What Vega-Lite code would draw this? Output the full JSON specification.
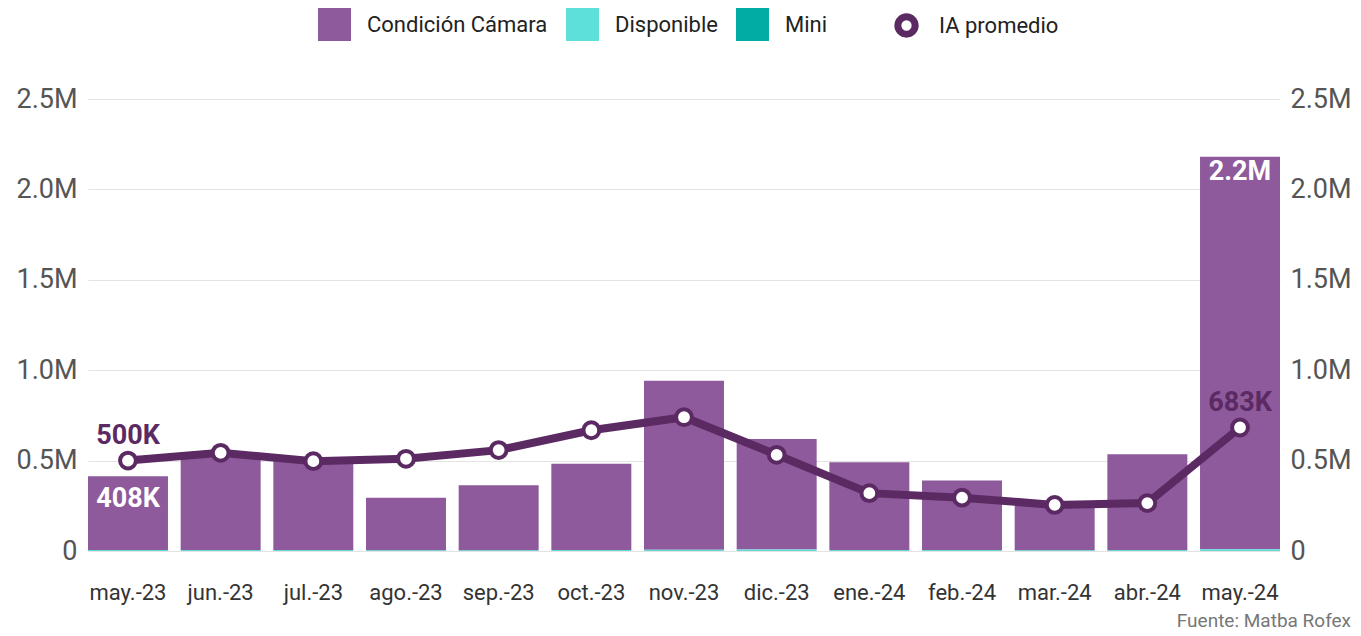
{
  "$schema": "https://vega.github.io/schema/vega-lite/v6.json",
  "width": 1361,
  "height": 636,
  "autosize": {"type": "fit", "contains": "padding"},
  "padding": {"left": 15, "right": 9, "top": 85, "bottom": 5},
  "config": {
    "font": "Roboto",
    "view": {"stroke": null},
    "axis": {"labelFont": "Roboto", "titleFont": "Roboto"},
    "legend": {"labelFont": "Roboto"}
  },
  "title": {"text": "Fuente: Matba Rofex", "orient": "bottom", "anchor": "end", "fontSize": 19, "fontWeight": "normal", "color": "#777777", "offset": 9},
  "datasets": {
    "bars": [
      {"month": "may.-23", "series": "Condición Cámara", "value": 408000, "label": "408K"},
      {"month": "jun.-23", "series": "Condición Cámara", "value": 522000, "label": ""},
      {"month": "jul.-23", "series": "Condición Cámara", "value": 502000, "label": ""},
      {"month": "ago.-23", "series": "Condición Cámara", "value": 290000, "label": ""},
      {"month": "sep.-23", "series": "Condición Cámara", "value": 360000, "label": ""},
      {"month": "oct.-23", "series": "Condición Cámara", "value": 478000, "label": ""},
      {"month": "nov.-23", "series": "Condición Cámara", "value": 935000, "label": ""},
      {"month": "dic.-23", "series": "Condición Cámara", "value": 612000, "label": ""},
      {"month": "ene.-24", "series": "Condición Cámara", "value": 485000, "label": ""},
      {"month": "feb.-24", "series": "Condición Cámara", "value": 385000, "label": ""},
      {"month": "mar.-24", "series": "Condición Cámara", "value": 270000, "label": ""},
      {"month": "abr.-24", "series": "Condición Cámara", "value": 530000, "label": ""},
      {"month": "may.-24", "series": "Condición Cámara", "value": 2170000, "label": "2.2M"},
      {"month": "may.-23", "series": "Disponible", "value": 4000},
      {"month": "jun.-23", "series": "Disponible", "value": 5000},
      {"month": "jul.-23", "series": "Disponible", "value": 4000},
      {"month": "ago.-23", "series": "Disponible", "value": 3000},
      {"month": "sep.-23", "series": "Disponible", "value": 3000},
      {"month": "oct.-23", "series": "Disponible", "value": 4000},
      {"month": "nov.-23", "series": "Disponible", "value": 6000},
      {"month": "dic.-23", "series": "Disponible", "value": 7000},
      {"month": "ene.-24", "series": "Disponible", "value": 5000},
      {"month": "feb.-24", "series": "Disponible", "value": 4000},
      {"month": "mar.-24", "series": "Disponible", "value": 3000},
      {"month": "abr.-24", "series": "Disponible", "value": 4000},
      {"month": "may.-24", "series": "Disponible", "value": 8000},
      {"month": "may.-23", "series": "Mini", "value": 1000},
      {"month": "jun.-23", "series": "Mini", "value": 1000},
      {"month": "jul.-23", "series": "Mini", "value": 1000},
      {"month": "ago.-23", "series": "Mini", "value": 1000},
      {"month": "sep.-23", "series": "Mini", "value": 1000},
      {"month": "oct.-23", "series": "Mini", "value": 1000},
      {"month": "nov.-23", "series": "Mini", "value": 1000},
      {"month": "dic.-23", "series": "Mini", "value": 1000},
      {"month": "ene.-24", "series": "Mini", "value": 1000},
      {"month": "feb.-24", "series": "Mini", "value": 1000},
      {"month": "mar.-24", "series": "Mini", "value": 1000},
      {"month": "abr.-24", "series": "Mini", "value": 1000},
      {"month": "may.-24", "series": "Mini", "value": 2000}
    ],
    "line": [
      {"month": "may.-23", "series": "IA promedio", "value": 500000, "label": "500K"},
      {"month": "jun.-23", "series": "IA promedio", "value": 543000, "label": ""},
      {"month": "jul.-23", "series": "IA promedio", "value": 497000, "label": ""},
      {"month": "ago.-23", "series": "IA promedio", "value": 510000, "label": ""},
      {"month": "sep.-23", "series": "IA promedio", "value": 558000, "label": ""},
      {"month": "oct.-23", "series": "IA promedio", "value": 668000, "label": ""},
      {"month": "nov.-23", "series": "IA promedio", "value": 740000, "label": ""},
      {"month": "dic.-23", "series": "IA promedio", "value": 532000, "label": ""},
      {"month": "ene.-24", "series": "IA promedio", "value": 320000, "label": ""},
      {"month": "feb.-24", "series": "IA promedio", "value": 295000, "label": ""},
      {"month": "mar.-24", "series": "IA promedio", "value": 255000, "label": ""},
      {"month": "abr.-24", "series": "IA promedio", "value": 265000, "label": ""},
      {"month": "may.-24", "series": "IA promedio", "value": 683000, "label": "683K"}
    ]
  },
  "encoding": {
    "x": {
      "field": "month", "type": "ordinal",
      "sort": ["may.-23","jun.-23","jul.-23","ago.-23","sep.-23","oct.-23","nov.-23","dic.-23","ene.-24","feb.-24","mar.-24","abr.-24","may.-24"],
      "scale": {"paddingInner": 0.137, "paddingOuter": 0},
      "axis": {"title": null, "labelAngle": 0, "labelFontSize": 22, "labelColor": "#333333", "domain": false, "ticks": false, "labelPadding": 31}
    }
  },
  "layer": [
    {
      "data": {"name": "bars"},
      "layer": [
        {
          "mark": {"type": "bar"},
          "encoding": {
            "y": {"field": "value", "type": "quantitative", "aggregate": "sum", "stack": "zero",
              "scale": {"domain": [0, 2500000], "nice": false, "zero": true},
              "axis": {"title": null, "values": [0, 500000, 1000000, 1500000, 2000000, 2500000],
                "labelExpr": "datum.value == 0 ? '0' : format(datum.value / 1000000, '.1f') + 'M'",
                "labelFontSize": 27, "labelColor": "#555555", "domain": false, "ticks": false, "labelPadding": 11,
                "gridColor": "#e3e3e3", "gridWidth": 1}},
            "color": {"field": "series", "type": "nominal",
              "scale": {"domain": ["Condición Cámara", "Disponible", "Mini"], "range": ["#8e5a9b", "#5ee0da", "#00aca4"]},
              "legend": {"title": null, "orient": "none", "legendX": 229, "legendY": -92, "direction": "horizontal", "symbolType": "square", "symbolSize": 1089,
                "labelFontSize": 22, "labelColor": "#222222", "symbolOpacity": 1, "columnPadding": 17, "labelOffset": 15, "labelLimit": 0}},
            "order": {"field": "series", "sort": "descending"}
          }
        },
        {
          "transform": [{"filter": "datum.month == 'may.-23' && datum.series == 'Condición Cámara'"}],
          "mark": {"type": "text", "baseline": "alphabetic", "dy": 30, "fontSize": 27, "fontWeight": "bold", "color": "#ffffff"},
          "encoding": {
            "y": {"field": "value", "type": "quantitative"},
            "text": {"field": "label"}
          }
        },
        {
          "transform": [{"filter": "datum.month == 'may.-24' && datum.series == 'Condición Cámara'"}],
          "mark": {"type": "text", "baseline": "alphabetic", "dy": 21, "fontSize": 27, "fontWeight": "bold", "color": "#ffffff"},
          "encoding": {
            "y": {"field": "value", "type": "quantitative"},
            "text": {"field": "label"}
          }
        }
      ]
    },
    {
      "data": {"name": "line"},
      "encoding": {
        "y": {"field": "value", "type": "quantitative",
          "scale": {"domain": [0, 2500000], "nice": false, "zero": true},
          "axis": {"title": null, "orient": "right", "values": [0, 500000, 1000000, 1500000, 2000000, 2500000],
            "labelExpr": "datum.value == 0 ? '0' : format(datum.value / 1000000, '.1f') + 'M'",
            "labelFontSize": 27, "labelColor": "#555555", "domain": false, "ticks": false, "labelPadding": 10, "grid": false}}
      },
      "layer": [
        {
          "mark": {"type": "line", "strokeWidth": 8},
          "encoding": {
            "stroke": {"field": "series", "type": "nominal",
              "scale": {"domain": ["IA promedio"], "range": ["#5b2a63"]},
              "legend": {"title": null, "orient": "none", "legendX": 806, "legendY": -86, "symbolType": "circle", "symbolFillColor": "#ffffff", "symbolStrokeWidth": 7, "symbolSize": 300,
                "labelFontSize": 22, "labelColor": "#222222", "labelOffset": 20, "symbolOffset": 0}}
          }
        },
        {
          "mark": {"type": "point", "filled": false, "fill": "#ffffff", "strokeWidth": 4, "size": 250, "opacity": 1},
          "encoding": {
            "stroke": {"field": "series", "type": "nominal"}
          }
        },
        {
          "transform": [{"filter": "datum.label != ''"}],
          "mark": {"type": "text", "baseline": "alphabetic", "dy": -17, "fontSize": 27, "fontWeight": "bold", "color": "#5b2a63"},
          "encoding": {"text": {"field": "label"}}
        }
      ]
    }
  ],
  "resolve": {"scale": {"y": "independent"}}
}
